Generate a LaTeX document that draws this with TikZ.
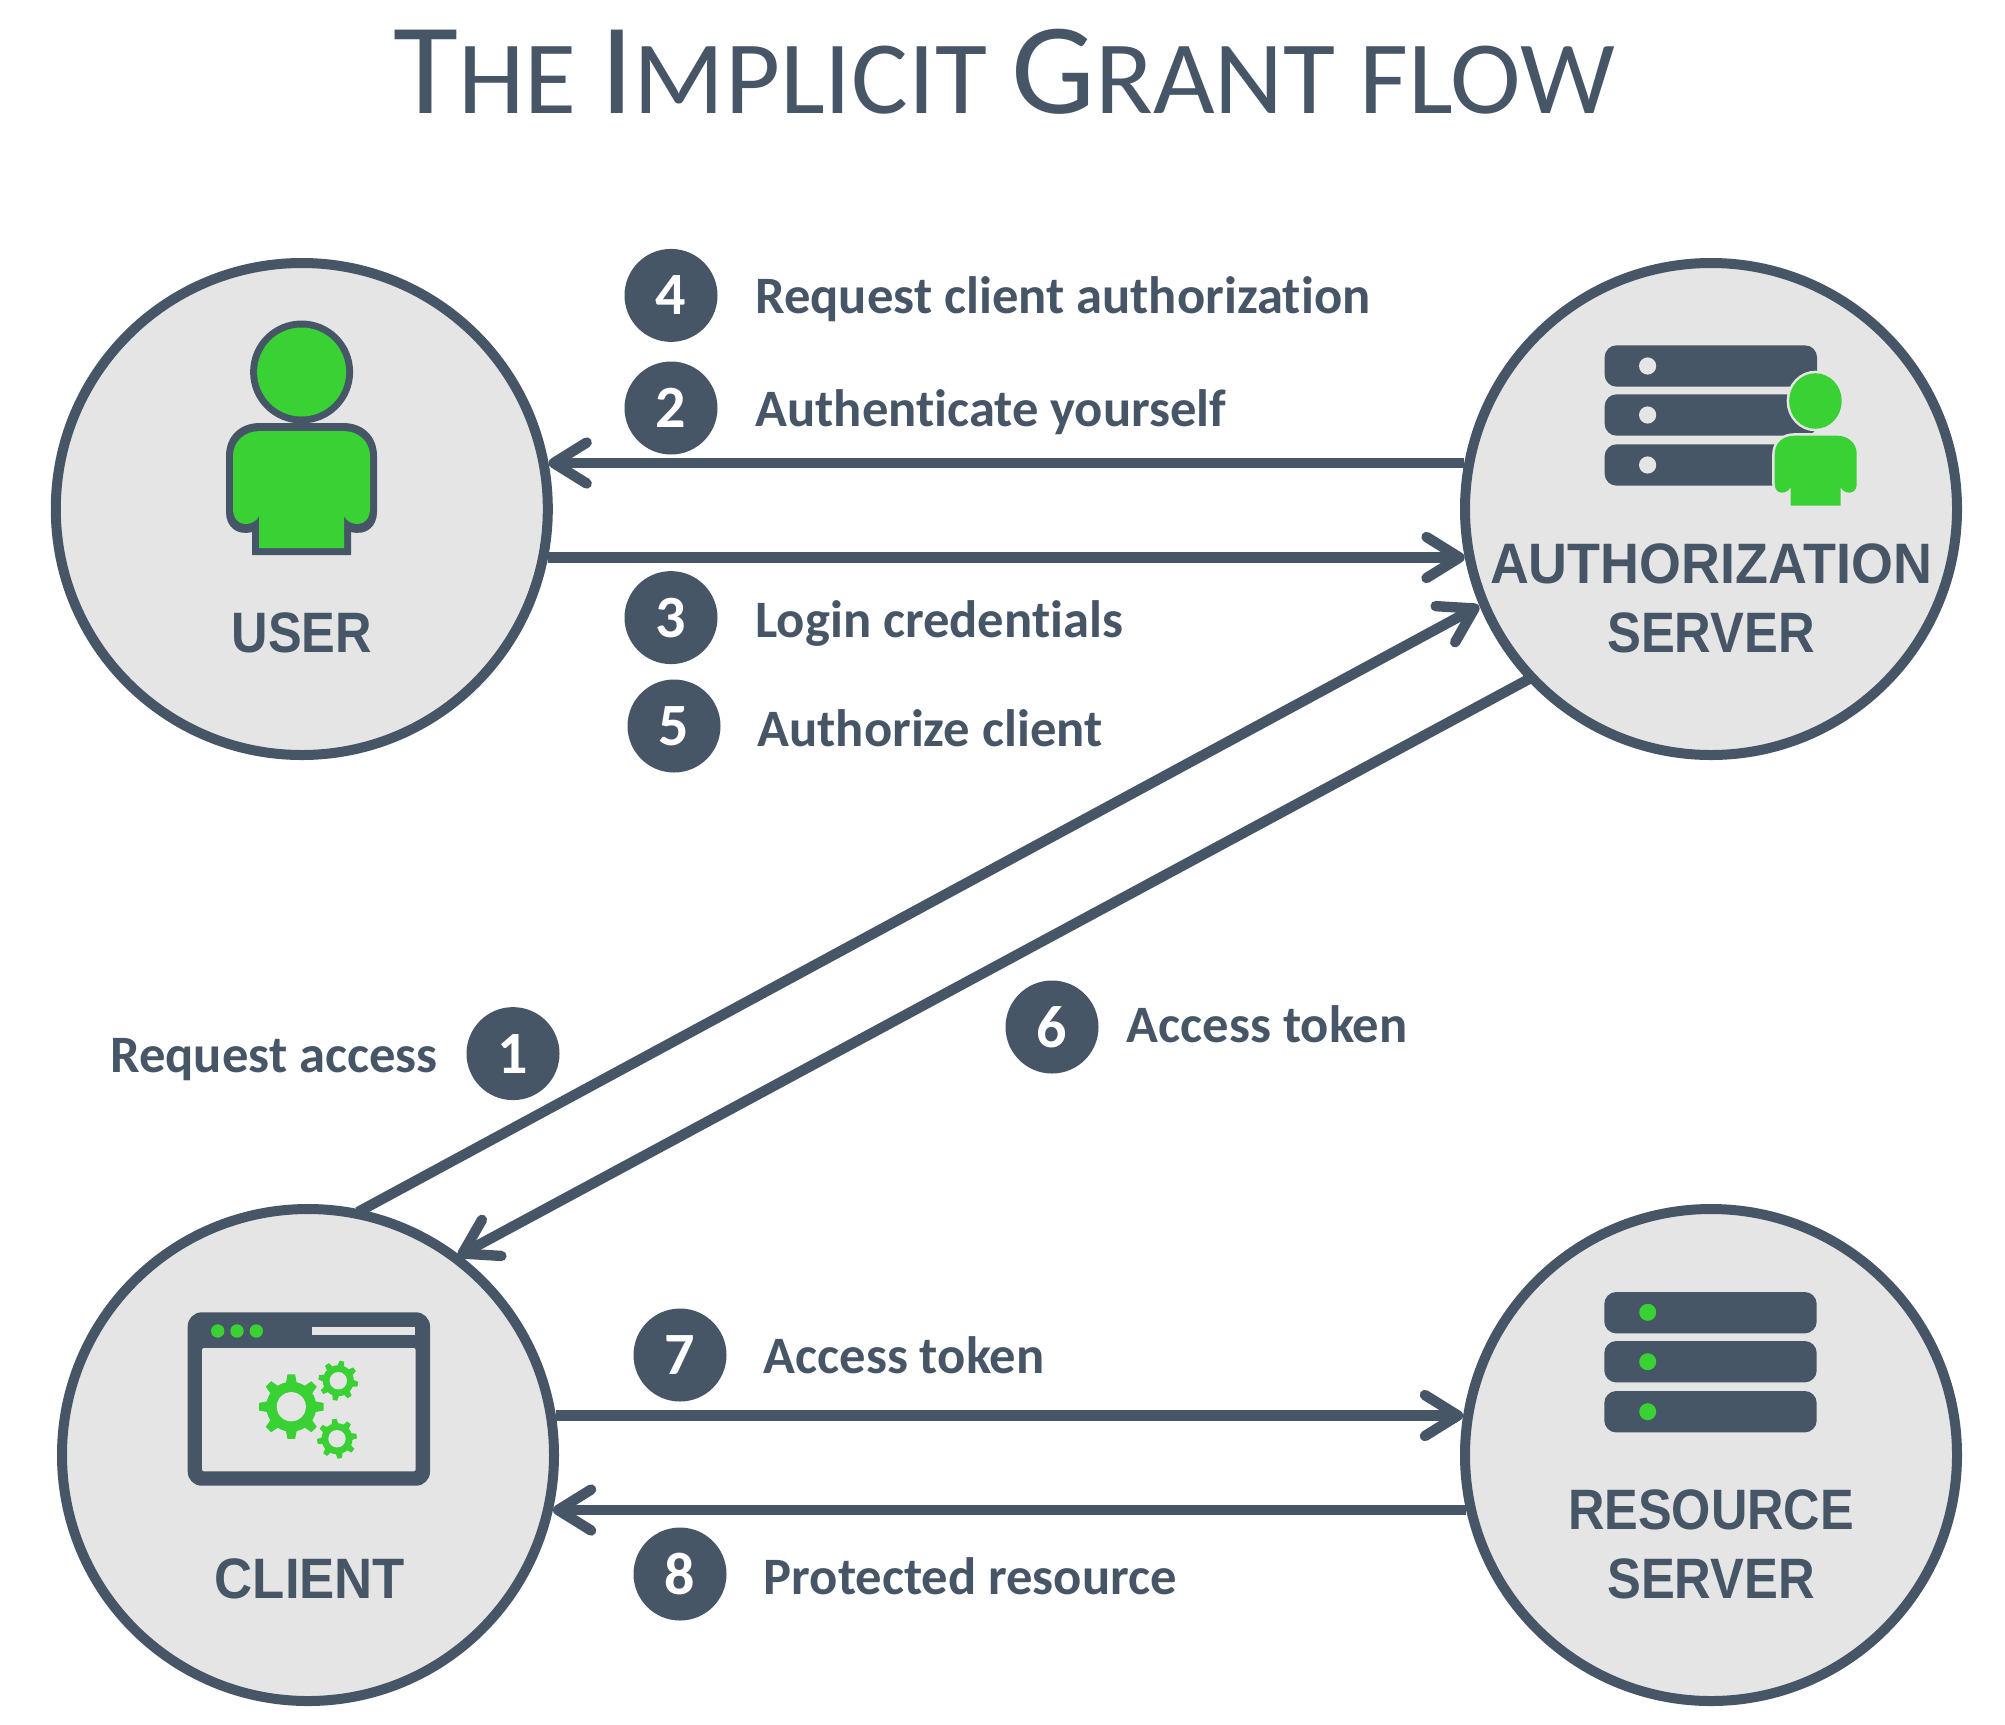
\documentclass[tikz,border=0pt]{standalone}
\usepackage{fontspec}
\setmainfont[Ligatures=NoCommon]{Carlito}
\newfontfamily\capsfont{Liberation Sans}
\usetikzlibrary{arrows.meta}
\definecolor{ink}{HTML}{475667}
\definecolor{leaf}{HTML}{3AD135}
\definecolor{disc}{HTML}{E5E5E5}
\newcommand{\gearshape}[7]{% cx cy outer root hole rot teeth
  \fill[leaf] ({#1+#4*cos(#6-0.5*360/#7)},{#2+#4*sin(#6-0.5*360/#7)})
   \foreach \gi [evaluate=\gi as \ga using #6+(\gi-1)*360/#7] in {1,...,#7}{
    -- ({#1+#4*cos(\ga-0.27*360/#7)},{#2+#4*sin(\ga-0.27*360/#7)})
    -- ({#1+#3*cos(\ga-0.15*360/#7)},{#2+#3*sin(\ga-0.15*360/#7)})
    -- ({#1+#3*cos(\ga+0.15*360/#7)},{#2+#3*sin(\ga+0.15*360/#7)})
    -- ({#1+#4*cos(\ga+0.27*360/#7)},{#2+#4*sin(\ga+0.27*360/#7)})
    -- ({#1+#4*cos(\ga+0.5*360/#7)},{#2+#4*sin(\ga+0.5*360/#7)})
  } -- cycle;
  \fill[disc] (#1,#2) circle[radius=#5];
}
\tikzset{
  actor/.style={circle,draw=ink,fill=disc,line width=5pt,minimum size=246pt,inner sep=0pt},
  badge/.style={circle,fill=ink,text=white,minimum size=46.5pt,inner sep=0pt,font=\fontsize{30}{30}\selectfont\bfseries},
  steplabel/.style={text=ink,inner sep=0pt,font=\fontsize{26.3}{26.3}\selectfont\bfseries},
  actorname/.style={text=ink,inner sep=0pt,anchor=base,font=\capsfont\fontsize{28.5}{28.5}\selectfont\bfseries},
  flow/.style={draw=ink,line width=5.2pt,-{Straight Barb[length=16.5pt,width=20.5pt,round]}},
  serverbar/.style={fill=ink,rounded corners=6pt},
}
\begin{document}
\begin{tikzpicture}[x=0.5pt,y=-0.5pt]
\useasboundingbox (0,0) rectangle (2005,1724);
\fill[white] (0,0) rectangle (2005,1724);

% title
\node[anchor=base,text=ink,inner sep=0pt] (title) at (1004,113) {\scalebox{1.024}[1]{%
  \fontsize{65}{65}\selectfont T\fontsize{52}{52}\selectfont HE \fontsize{65}{65}\selectfont I\fontsize{52}{52}\selectfont MPLICIT \fontsize{65}{65}\selectfont G\fontsize{52}{52}\selectfont RANT FLOW}};

% connectors first so that the circles lie over their ends
\node[actor] (user) at (301.8,509) {};
\node[actor] (auth) at (1711,509) {};
\node[actor] (client) at (308,1455) {};
\node[actor] (resource) at (1711,1455) {};

\draw[flow] ([shift={(-246.7,-46)}]auth.center) -- ([shift={(246.7,-46)}]user.center);
\draw[flow] ([shift={(246.3,48.5)}]user.center) -- ([shift={(-246.3,48.5)}]auth.center);
\draw[flow] ([shift={(50,-243)}]client.center) -- ([shift={(-232,97)}]auth.center);
\draw[flow] ([shift={(-182,170)}]auth.center) -- ([shift={(150,-199)}]client.center);
\draw[flow] ([shift={(247.9,-39.5)}]client.center) -- ([shift={(-247.9,-39.5)}]resource.center);
\draw[flow] ([shift={(-244.9,55)}]resource.center) -- ([shift={(244.9,55)}]client.center);

% user icon
\fill[ink] (301.6,372) circle[radius=51.5];
\fill[leaf] (301.6,372) circle[radius=44.5];
\fill[ink] (252,555) -- (252,532) .. controls (236,536) and (226,526) .. (226,512) -- (226,456)
  .. controls (226,436) and (240,423) .. (260,423) -- (343,423) .. controls (363,423) and (377,436) .. (377,456)
  -- (377,512) .. controls (377,526) and (367,536) .. (351,532) -- (351,555) -- cycle;
\fill[leaf] (259,548) -- (259,516) .. controls (255,526) and (233,530) .. (233,508) -- (233,456)
  .. controls (233,441) and (245,431) .. (260,431) -- (343,431) .. controls (358,431) and (370,441) .. (370,456)
  -- (370,508) .. controls (370,530) and (348,526) .. (344,516) -- (344,548) -- cycle;

% authorization server icon
\foreach \ty/\dy in {345.3/366,394.3/415,444.3/465}{
  \fill[serverbar] (1604.6,\ty) rectangle (1817,\ty+41.4);
  \fill[disc] (1647.6,\dy) circle[radius=8.6];
}
\path[draw=disc,line width=2.5pt,postaction={fill=leaf}] (1815.4,401) ellipse[x radius=26.3,y radius=27.8];
\path[draw=disc,line width=2.5pt,postaction={fill=leaf}] (1790.5,505.7) -- (1790.5,487) .. controls (1788,494) and (1774.7,496) .. (1774.7,484) -- (1774.7,454)
  .. controls (1774.7,443) and (1783,435.7) .. (1794,435.7) -- (1837,435.7) .. controls (1848,435.7) and (1856.7,443) .. (1856.7,454)
  -- (1856.7,484) .. controls (1856.7,496) and (1843,494) .. (1840.5,487) -- (1840.5,505.7) -- cycle;

% client window icon
\fill[ink,rounded corners=7pt] (187.7,1312.3) rectangle (430,1485.7);
\fill[disc,rounded corners=1pt] (202,1348) rectangle (415.7,1471.3);
\foreach \wx in {217.7,237,256.3}{\fill[leaf] (\wx,1331) circle[radius=6.7];}
\fill[disc] (312.3,1327) rectangle (415,1335);
\gearshape{291.3}{1406.7}{32.5}{25}{14.6}{0}{8}
\gearshape{338.3}{1380.7}{20}{15.5}{8.7}{10}{8}
\gearshape{337}{1438.7}{20}{15.5}{8.7}{-8}{8}

% resource server icon
\foreach \ty/\dy in {1292/1312.3,1341/1361.7,1391/1411.7}{
  \fill[serverbar] (1604.3,\ty) rectangle (1816.7,\ty+41.4);
  \fill[leaf] (1647.7,\dy) circle[radius=8.5];
}

% actor names
\node[actorname] (nuser) at (301.8,652) {\scalebox{.886}[1]{USER}};
\node[actorname] (nauth1) at (1711,583) {\scalebox{.945}[1]{AUTHORIZATION}};
\node[actorname] (nauth2) at (1711,652) {\scalebox{.89}[1]{SERVER}};
\node[actorname] (nclient) at (310,1598) {\scalebox{.925}[1]{CLIENT}};
\node[actorname] (nres1) at (1711,1529) {\scalebox{.885}[1]{RESOURCE}};
\node[actorname] (nres2) at (1711,1598) {\scalebox{.89}[1]{SERVER}};

% badges
\node[badge] (b4) at (671,295.4) {4};
\node[badge] (b2) at (671,408) {2};
\node[badge] (b3) at (671,617.6) {3};
\node[badge] (b5) at (674,726) {5};
\node[badge] (b1) at (513,1053.6) {1};
\node[badge] (b6) at (1052,1027) {6};
\node[badge] (b7) at (680,1355) {7};
\node[badge] (b8) at (680,1574) {8};

% step labels
\node[steplabel,anchor=base west] (l4) at (755,313.6) {Request client authorization};
\node[steplabel,anchor=base west] (l2) at (755,426) {Authenticate yourself};
\node[steplabel,anchor=base west] (l3) at (755,637) {Login credentials};
\node[steplabel,anchor=base west] (l5) at (757,746) {Authorize client};
\node[steplabel,anchor=base east] (l1) at (438,1072) {Request access};
\node[steplabel,anchor=base west] (l6) at (1126.5,1042) {Access token};
\node[steplabel,anchor=base west] (l7) at (763.4,1373) {Access token};
\node[steplabel,anchor=base west] (l8) at (763.4,1594) {Protected resource};
\end{tikzpicture}
\end{document}
